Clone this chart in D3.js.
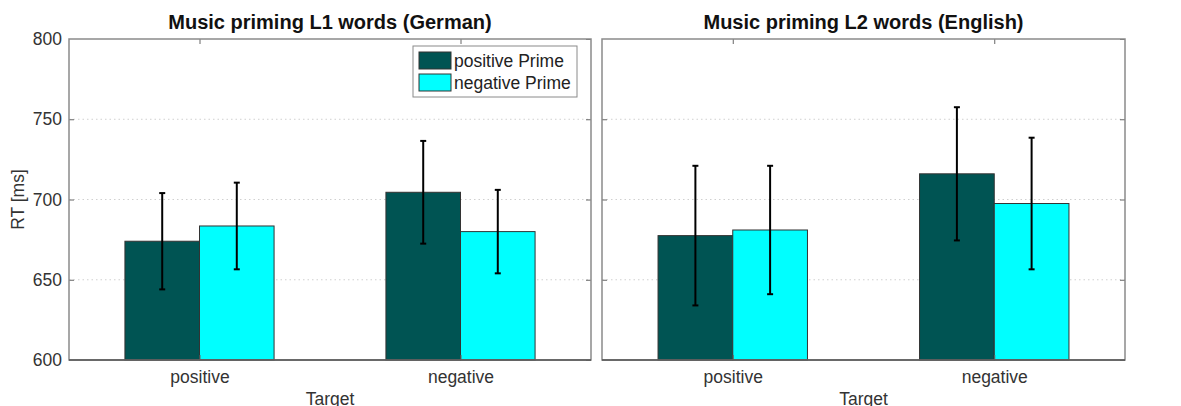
<!DOCTYPE html>
<html>
<head>
<meta charset="utf-8">
<script src="https://cdn.jsdelivr.net/npm/d3@7"></script>
<style>
  html, body { margin: 0; padding: 0; background: #fff; }
  svg { display: block; font-family: "Liberation Sans", Arial, sans-serif; }
</style>
</head>
<body>
<svg id="chart" width="1181" height="406"></svg>
<script>
// Target categories and prime conditions
const targets = ["positive", "negative"];
const primes = ["positive Prime", "negative Prime"];
const primeColors = ["#005453", "#00FFFF"];

// Mean reaction times (ms) and error half-widths, per panel: [positive Prime, negative Prime] for each target
const germanMeans = [[674, 683.5], [704.5, 680]];
const germanErr   = [[30, 27], [32, 26]];
const englishMeans = [[677.5, 681], [716, 697.5]];
const englishErr   = [[43.5, 40], [41.5, 41]];

const yTicks = [600, 650, 700, 750, 800];

const panels = [
  { title: "Music priming L1 words (German)", means: germanMeans, err: germanErr, left: 69, right: 591, yLabels: true, legend: true },
  { title: "Music priming L2 words (English)", means: englishMeans, err: englishErr, left: 602, right: 1125, yLabels: false, legend: false }
];

const svg = d3.select("#chart");
const plotTop = 39, plotBottom = 360;
const y = d3.scaleLinear().domain([600, 800]).range([plotBottom, plotTop]);
const labelSize = 17.5;

panels.forEach(p => {
  const g = svg.append("g");
  const x = d3.scaleLinear().domain([0.5, 2.5]).range([p.left, p.right]);
  const groupW = 2 / 3.5;            // grouped-bar width in category units
  const barW = groupW / primes.length;

  // dotted horizontal grid
  g.append("g").selectAll("line").data(yTicks.slice(1, -1)).join("line")
    .attr("x1", p.left).attr("x2", p.right)
    .attr("y1", d => y(d)).attr("y2", d => y(d))
    .attr("stroke", "#d0d0d0").attr("stroke-width", 1)
    .attr("stroke-dasharray", "1.5,3");

  // bars
  const rows = [];
  p.means.forEach((pair, ti) => pair.forEach((v, pi) => {
    rows.push({ ti, pi, v, e: p.err[ti][pi] });
  }));

  g.append("g").selectAll("rect").data(rows).join("rect")
    .attr("x", d => x(d.ti + 1 + (d.pi - 1) * barW))
    .attr("width", x(1 + barW) - x(1))
    .attr("y", d => y(d.v))
    .attr("height", d => y(600) - y(d.v))
    .attr("fill", d => primeColors[d.pi])
    .attr("stroke", "#333").attr("stroke-width", 1);

  // error bars
  const eb = g.append("g").attr("stroke", "#000").attr("stroke-width", 2);
  const capHalf = 3;
  rows.forEach(d => {
    const xc = x(d.ti + 1 + (d.pi - 0.5) * barW);
    eb.append("line").attr("x1", xc).attr("x2", xc)
      .attr("y1", y(d.v + d.e)).attr("y2", y(d.v - d.e));
    [d.v + d.e, d.v - d.e].forEach(t => {
      eb.append("line").attr("x1", xc - capHalf).attr("x2", xc + capHalf)
        .attr("y1", y(t)).attr("y2", y(t));
    });
  });

  // axes: ticks point inward
  const xAxisB = d3.axisBottom(x).tickValues([1, 2]).tickSize(-5).tickPadding(11)
    .tickFormat(d => targets[d - 1]);
  const gxb = g.append("g").attr("transform", `translate(0,${plotBottom})`).call(xAxisB);
  const xAxisT = d3.axisTop(x).tickValues([1, 2]).tickSize(-5).tickFormat("");
  const gxt = g.append("g").attr("transform", `translate(0,${plotTop})`).call(xAxisT);
  const yAxisL = d3.axisLeft(y).tickValues(yTicks).tickSize(-5).tickPadding(7)
    .tickFormat(p.yLabels ? d3.format("d") : "");
  const gyl = g.append("g").attr("transform", `translate(${p.left},0)`).call(yAxisL);
  const yAxisR = d3.axisRight(y).tickValues(yTicks).tickSize(-5).tickFormat("");
  const gyr = g.append("g").attr("transform", `translate(${p.right},0)`).call(yAxisR);

  [gxb, gxt, gyl, gyr].forEach(a => {
    a.select(".domain").remove();
    a.selectAll(".tick line").attr("stroke", "#666");
    a.selectAll(".tick text").attr("fill", "#333").attr("font-size", labelSize)
      .attr("font-family", "Liberation Sans, Arial, sans-serif");
  });
  gyl.selectAll(".tick").filter(d => d === 600 || d === 800).select("line").remove();

  // axes box
  g.append("rect")
    .attr("x", p.left).attr("y", plotTop)
    .attr("width", p.right - p.left).attr("height", plotBottom - plotTop)
    .attr("fill", "none").attr("stroke", "#8a8a8a").attr("stroke-width", 1.5);
  g.append("line").attr("x1", p.left).attr("x2", p.right)
    .attr("y1", plotBottom).attr("y2", plotBottom)
    .attr("stroke", "#555").attr("stroke-width", 1.5);

  // title
  g.append("text")
    .attr("x", (p.left + p.right) / 2).attr("y", 29)
    .attr("text-anchor", "middle").attr("font-weight", "bold")
    .attr("font-size", 20).attr("fill", "#111")
    .text(p.title);

  // x label (runs to the bottom edge of the figure)
  g.append("text")
    .attr("x", (p.left + p.right) / 2).attr("y", 405)
    .attr("text-anchor", "middle").attr("font-size", labelSize).attr("fill", "#333")
    .text("Target");

  if (p.yLabels) {
    g.append("text")
      .attr("transform", `translate(24,${(plotTop + plotBottom) / 2}) rotate(-90)`)
      .attr("text-anchor", "middle").attr("font-size", labelSize).attr("fill", "#333")
      .text("RT [ms]");
  }

  if (p.legend) {
    const lg = g.append("g").attr("transform", "translate(413,46)");
    lg.append("rect").attr("width", 164).attr("height", 51)
      .attr("fill", "#fff").attr("stroke", "#8a8a8a").attr("stroke-width", 1);
    primes.forEach((name, i) => {
      lg.append("rect").attr("x", 6).attr("y", 6 + i * 22)
        .attr("width", 32).attr("height", 17)
        .attr("fill", primeColors[i]).attr("stroke", "#333").attr("stroke-width", 1);
      lg.append("text").attr("x", 41).attr("y", 21 + i * 22)
        .attr("font-size", labelSize).attr("fill", "#222").text(name);
    });
  }
});
</script>
</body>
</html>
